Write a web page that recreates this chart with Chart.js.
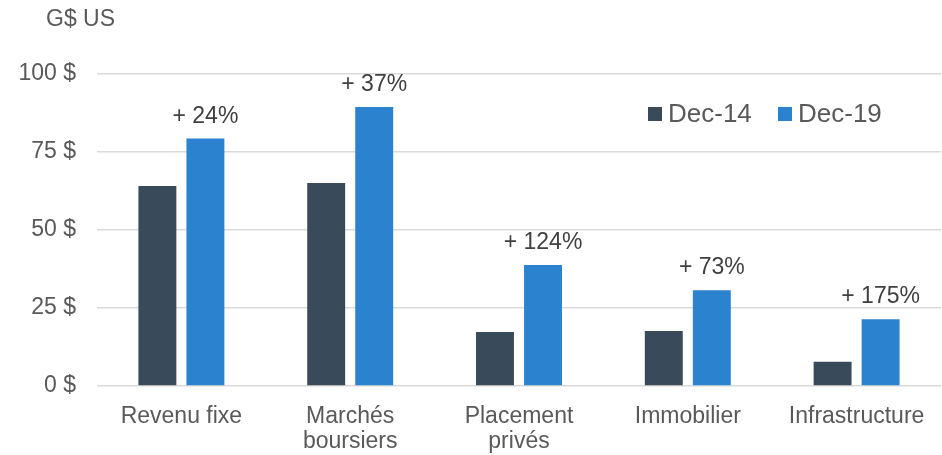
<!DOCTYPE html>
<html>
<head>
<meta charset="utf-8">
<script src="https://cdn.jsdelivr.net/npm/chart.js@4.4.1/dist/chart.umd.min.js"></script>
<style>
  html, body { margin: 0; padding: 0; background: #fff; }
  #wrap { width: 942px; height: 455px; position: relative; }
</style>
</head>
<body>
<div id="wrap"><canvas id="assetChart"></canvas></div>
<script>
// Data
const categories = ['Revenu fixe', ['Marchés', 'boursiers'], ['Placement', 'privés'], 'Immobilier', 'Infrastructure'];
const dec14 = [64.1, 65.1, 17.3, 17.6, 7.8];
const dec19 = [79.3, 89.4, 38.8, 30.7, 21.4];
const growthLabels = ['+ 24%', '+ 37%', '+ 124%', '+ 73%', '+ 175%'];
const yTicks = [0, 25, 50, 75, 100];
const seriesNames = ['Dec-14', 'Dec-19'];

const DARK = '#394B5A';
const BLUE = '#2B82CE';
const TEXT = '#595959';
const FONT = '"Liberation Sans", Arial, sans-serif';

// Extra drawing: unit label, growth labels, legend
const extras = {
  id: 'extras',
  afterDatasetsDraw(chart) {
    const c = chart.ctx;
    c.save();
    c.font = '23px ' + FONT;
    c.fillStyle = TEXT;
    c.textAlign = 'left';
    c.textBaseline = 'middle';
    c.fillText('G$ US', 46, 20);

    // growth labels over the Dec-19 bars
    c.fillStyle = '#404040';
    c.textAlign = 'center';
    c.textBaseline = 'alphabetic';
    chart.getDatasetMeta(1).data.forEach((bar, i) => {
      c.fillText(growthLabels[i], bar.x, bar.y - 16);
    });

    // legend
    c.font = '26px ' + FONT;
    c.fillStyle = TEXT;
    c.textAlign = 'left';
    c.textBaseline = 'middle';
    const items = [[648, DARK, seriesNames[0]], [778, BLUE, seriesNames[1]]];
    items.forEach(([x, col, name]) => {
      c.fillStyle = col;
      c.fillRect(x, 107, 14, 14);
      c.fillStyle = TEXT;
      c.fillText(name, x + 20, 115);
    });
    c.restore();
  }
};

const ctx = document.getElementById('assetChart').getContext('2d');

new Chart(ctx, {
  type: 'bar',
  data: {
    labels: categories,
    datasets: [
      { label: seriesNames[0], data: dec14, backgroundColor: DARK },
      { label: seriesNames[1], data: dec19, backgroundColor: BLUE }
    ]
  },
  options: {
    responsive: true,
    maintainAspectRatio: false,
    animation: false,
    datasets: {
      bar: { categoryPercentage: 0.569, barPercentage: 0.79 }
    },
    layout: { padding: { top: 74, right: 1, left: 0, bottom: 0 } },
    plugins: {
      legend: { display: false },
      tooltip: { enabled: false }
    },
    scales: {
      x: {
        grid: { display: false },
        border: { display: false },
        ticks: {
          color: TEXT,
          font: { family: FONT, size: 23, lineHeight: 1.1 },
          padding: 10,
          maxRotation: 0,
          autoSkip: false
        },
        afterFit(scale) { scale.height = 69; }
      },
      y: {
        min: 0,
        max: 100,
        afterBuildTicks(scale) { scale.ticks = yTicks.map(v => ({ value: v })); },
        grid: { color: '#D9D9D9', lineWidth: 1.5, drawTicks: false },
        border: { display: false },
        ticks: {
          color: TEXT,
          font: { family: FONT, size: 23 },
          padding: 21,
          callback: v => v + ' $'
        },
        afterFit(scale) { scale.width = 97; }
      }
    }
  },
  plugins: [extras]
});
</script>
</body>
</html>
